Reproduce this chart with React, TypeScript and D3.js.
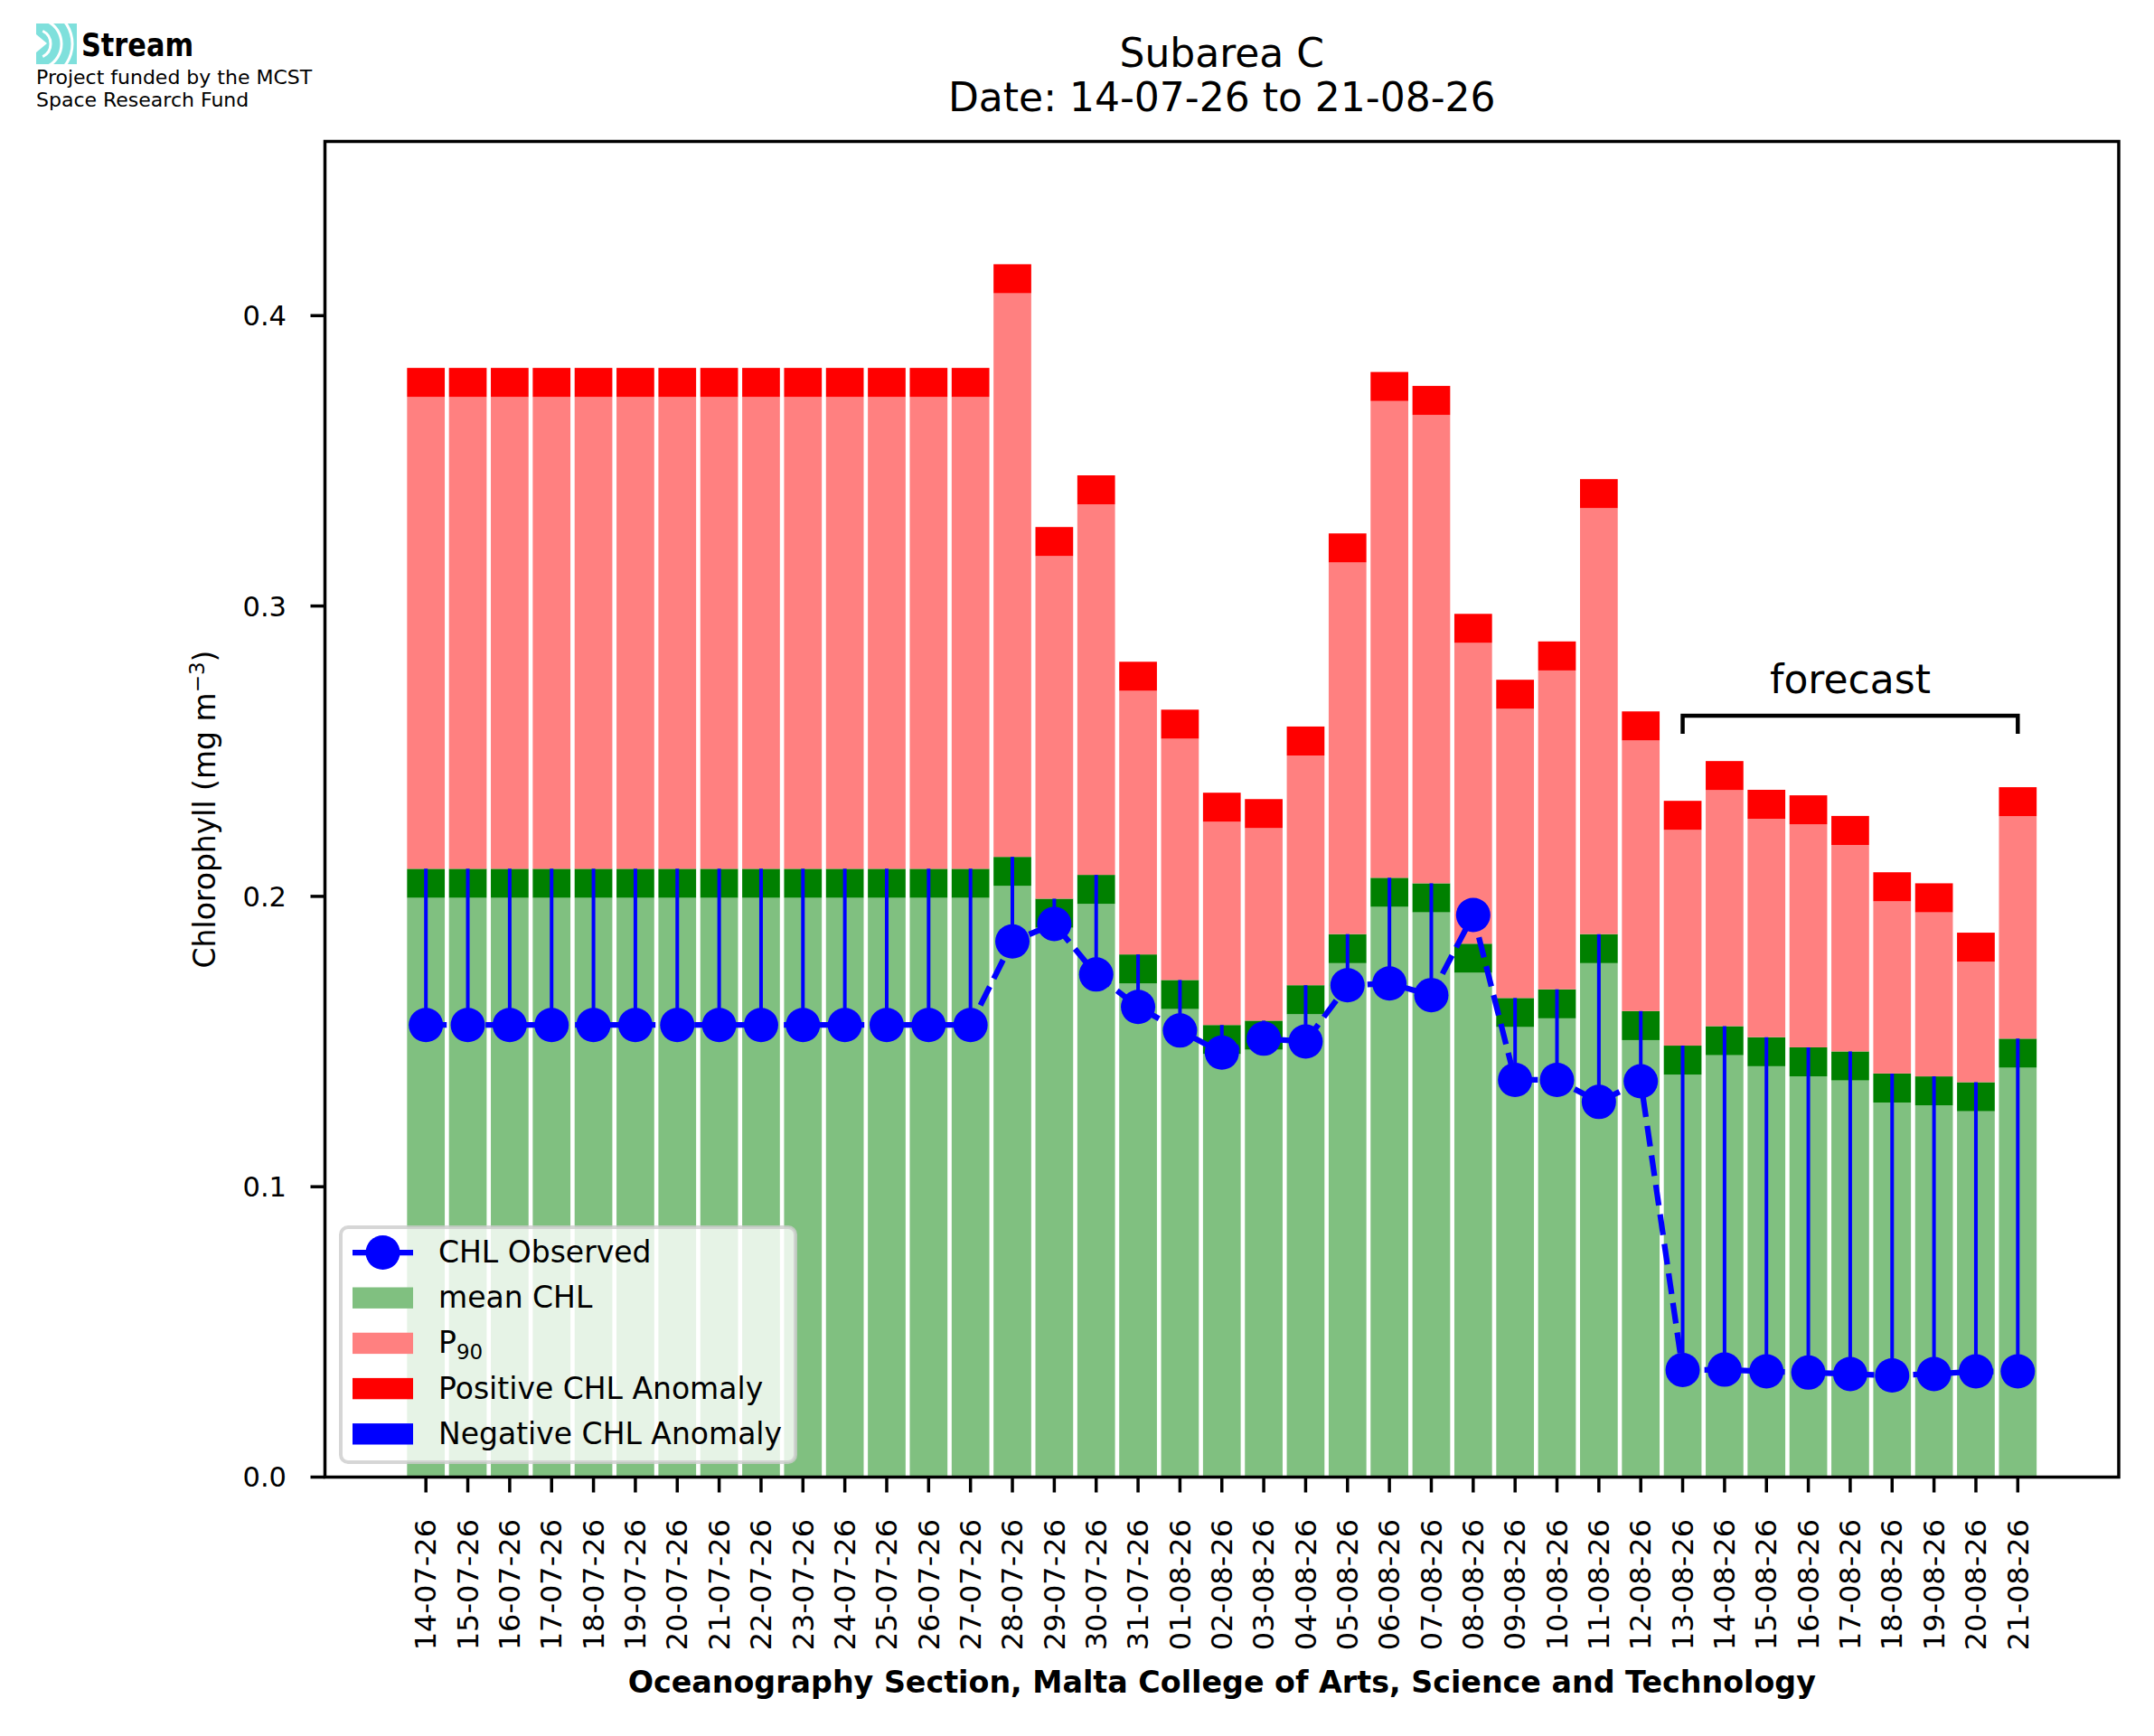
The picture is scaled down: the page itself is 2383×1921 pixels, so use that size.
import * as d3 from 'd3';
import React from 'react';

// dates on the x axis
const dates: string[] = [
    '14-07-26', '15-07-26', '16-07-26', '17-07-26', '18-07-26', '19-07-26', '20-07-26',
    '21-07-26', '22-07-26', '23-07-26', '24-07-26', '25-07-26', '26-07-26', '27-07-26',
    '28-07-26', '29-07-26', '30-07-26', '31-07-26', '01-08-26', '02-08-26', '03-08-26',
    '04-08-26', '05-08-26', '06-08-26', '07-08-26', '08-08-26', '09-08-26', '10-08-26',
    '11-08-26', '12-08-26', '13-08-26', '14-08-26', '15-08-26', '16-08-26', '17-08-26',
    '18-08-26', '19-08-26', '20-08-26', '21-08-26',
];

// climatological mean CHL (top of light green bar)
const meanCHL: number[] = [
    0.1995, 0.1995, 0.1995, 0.1995, 0.1995, 0.1995, 0.1995,
    0.1995, 0.1995, 0.1995, 0.1995, 0.1995, 0.1995, 0.1995,
    0.2036, 0.1892, 0.1974, 0.1700, 0.1612, 0.1457, 0.1472,
    0.1594, 0.1770, 0.1964, 0.1945, 0.1737, 0.1550, 0.1580,
    0.1770, 0.1505, 0.1386, 0.1453, 0.1415, 0.1380, 0.1366,
    0.1290, 0.1280, 0.1260, 0.1410,
];

// 90th percentile (top of light red bar)
const p90: number[] = [
    0.3720, 0.3720, 0.3720, 0.3720, 0.3720, 0.3720, 0.3720,
    0.3720, 0.3720, 0.3720, 0.3720, 0.3720, 0.3720, 0.3720,
    0.4077, 0.3172, 0.3350, 0.2708, 0.2543, 0.2257, 0.2235,
    0.2485, 0.3150, 0.3706, 0.3658, 0.2873, 0.2646, 0.2778,
    0.3337, 0.2537, 0.2229, 0.2366, 0.2267, 0.2248, 0.2177,
    0.1983, 0.1945, 0.1775, 0.2276,
];

// observed CHL
const observed: number[] = [
    0.1557, 0.1557, 0.1557, 0.1557, 0.1557, 0.1557, 0.1557,
    0.1557, 0.1557, 0.1557, 0.1557, 0.1557, 0.1557, 0.1557,
    0.1845, 0.1905, 0.1731, 0.1619, 0.1538, 0.1462, 0.1510,
    0.1500, 0.1694, 0.1700, 0.1660, 0.1936, 0.1368, 0.1368,
    0.1292, 0.1363, 0.0369, 0.0370, 0.0364, 0.0360, 0.0355,
    0.0350, 0.0355, 0.0364, 0.0364,
];

const band = 0.01;
const yTicks = [0, 0.1, 0.2, 0.3, 0.4];
const forecastStart = 30;
const forecastEnd = 38;

const legendItems = ['CHL Observed', 'mean CHL', 'P90', 'Positive CHL Anomaly', 'Negative CHL Anomaly'];

const W = 2383;
const H = 1921;
const left = 359.5, right = 2344, top = 156.5, bottom = 1634.5;
const font = 'DejaVu Sans, Verdana, sans-serif';

const App: React.FC = () => {
    const x = d3.scaleLinear().domain([-2.41, 40.41]).range([left, right]);
    const y = d3.scaleLinear().domain([0, 0.46]).range([bottom, top]);
    const bw = x(0.9) - x(0);
    const idx = dates.map((_, i) => i);

    const line = d3.line<number>()
        .x((i) => x(i))
        .y((i) => y(observed[i]));

    const legX = 377, legY = 1358;
    const rowY = (k: number) => 1386 + k * 50.2;

    return (
        <div style={{ position: 'absolute', left: 0, top: 0 }}>
            <svg width={W} height={H} style={{ display: 'block', background: '#fff' }} fontFamily={font}>
                <rect width={W} height={H} fill="#fff" />

                {/* logo */}
                <g>
                    <rect x={40} y={26} width={45} height={45} fill="#7fe0dc" />
                    <path d="M40,38 L52,48 L40,58 Z" fill="#fff" />
                    {[16, 28, 40].map((r) => (
                        <path key={r}
                            d={`M${40 + r * Math.cos(-1.1)},${48.5 + r * Math.sin(-1.1)} A${r},${r} 0 0 1 ${40 + r * Math.cos(1.1)},${48.5 + r * Math.sin(1.1)}`}
                            fill="none" stroke="#fff" strokeWidth={3} />
                    ))}
                    <text x={90} y={62} fontSize={35} fontWeight="bold" textLength={124} lengthAdjust="spacingAndGlyphs">Stream</text>
                    <text x={40} y={93} fontSize={22}>Project funded by the MCST</text>
                    <text x={40} y={118} fontSize={22}>Space Research Fund</text>
                </g>

                {/* title */}
                <text x={(left + right) / 2} y={74} fontSize={44} textAnchor="middle">Subarea C</text>
                <text x={(left + right) / 2} y={123} fontSize={44} textAnchor="middle">Date: 14-07-26 to 21-08-26</text>

                {/* bars */}
                {idx.map((i) => {
                    const x0 = x(i) - bw / 2;
                    const m = meanCHL[i];
                    const p = p90[i];
                    return (
                        <g key={`b${i}`}>
                            <rect x={x0} width={bw} y={y(m)} height={y(0) - y(m)} fill="#80c080" />
                            <rect x={x0} width={bw} y={y(m + band)} height={y(m) - y(m + band)} fill="#008000" />
                            <rect x={x0} width={bw} y={y(p)} height={y(m + band) - y(p)} fill="#ff8080" />
                            <rect x={x0} width={bw} y={y(p + band)} height={y(p) - y(p + band)} fill="#ff0000" />
                        </g>
                    );
                })}

                {/* negative anomaly lines */}
                {idx.filter((i) => observed[i] < meanCHL[i] + band).map((i) => (
                    <line key={`n${i}`} x1={x(i)} x2={x(i)} y1={y(observed[i])} y2={y(meanCHL[i] + band)}
                        stroke="#0000ff" strokeWidth={4} />
                ))}

                {/* observed line */}
                <path d={line(idx) || ''} fill="none" stroke="#0000ff" strokeWidth={6.25} strokeDasharray="23 10" />
                {idx.map((i) => (
                    <circle key={`o${i}`} cx={x(i)} cy={y(observed[i])} r={19} fill="#0000ff" />
                ))}

                {/* forecast bracket */}
                <path d={`M${x(forecastStart)},${y(0.256)} V${y(0.2622)} H${x(forecastEnd)} V${y(0.256)}`}
                    fill="none" stroke="#000" strokeWidth={4.5} />
                <text x={x((forecastStart + forecastEnd) / 2)} y={y(0.27)} fontSize={44} textAnchor="middle">forecast</text>

                {/* axes frame */}
                <rect x={left} y={top} width={right - left} height={bottom - top} fill="none" stroke="#000" strokeWidth={3.5} />

                {/* y axis */}
                {yTicks.map((t) => (
                    <g key={`y${t}`}>
                        <line x1={left - 16} x2={left} y1={y(t)} y2={y(t)} stroke="#000" strokeWidth={3.5} />
                        <text x={317} y={y(t)} dy="0.36em" fontSize={30.5} textAnchor="end">{d3.format('.1f')(t)}</text>
                    </g>
                ))}
                <text transform={`translate(238,${(top + bottom) / 2}) rotate(-90)`} fontSize={33} textAnchor="middle">
                    Chlorophyll (mg m<tspan fontSize={23} dy={-12}>−3</tspan><tspan dy={12}>)</tspan>
                </text>

                {/* x axis */}
                {idx.map((i) => (
                    <g key={`x${i}`}>
                        <line x1={x(i)} x2={x(i)} y1={bottom} y2={bottom + 17} stroke="#000" strokeWidth={3.5} />
                        <text transform={`translate(${x(i)},${1681}) rotate(-90)`} fontSize={32} textAnchor="end" dy="0.35em">{dates[i]}</text>
                    </g>
                ))}
                <text x={(left + right) / 2} y={1873} fontSize={33.3} fontWeight="bold" textAnchor="middle">
                    Oceanography Section, Malta College of Arts, Science and Technology
                </text>

                {/* legend */}
                <rect x={legX} y={legY} width={503} height={260} rx={8} fill="#fff" fillOpacity={0.8} stroke="#cccccc" strokeOpacity={0.8} strokeWidth={4} />
                <line x1={390} x2={457} y1={rowY(0)} y2={rowY(0)} stroke="#0000ff" strokeWidth={6.25} />
                <circle cx={423.5} cy={rowY(0)} r={19} fill="#0000ff" />
                {['#80c080', '#ff8080', '#ff0000', '#0000ff'].map((c, k) => (
                    <rect key={c} x={390} width={67} y={rowY(k + 1) - 11.7} height={23.4} fill={c} />
                ))}
                {legendItems.map((t, k) => (
                    <text key={t} x={485} y={rowY(k) + 11} fontSize={33}>
                        {t === 'P90' ? (<>P<tspan fontSize={23} dy={7}>90</tspan></>) : t}
                    </text>
                ))}
            </svg>
        </div>
    );
};

export default App;
